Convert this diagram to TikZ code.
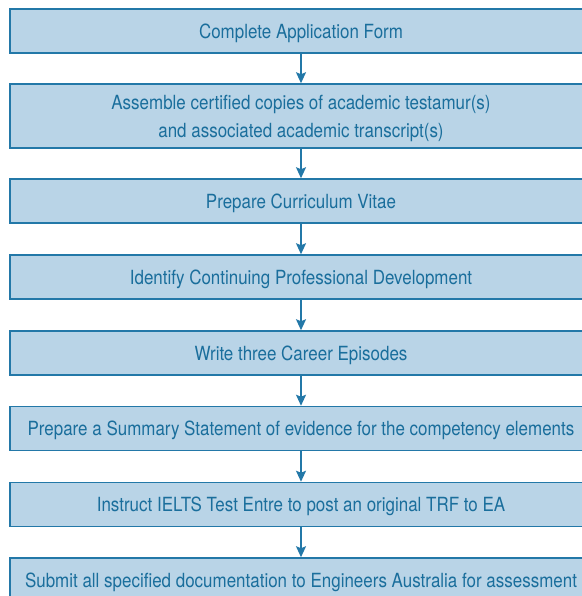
\documentclass[tikz,border=0pt]{standalone}
\usepackage{fontspec}
\setmainfont[FakeStretch=0.87]{TeX Gyre Heros}
\usepackage{xcolor}
\usetikzlibrary{arrows.meta}

\definecolor{boxfill}{HTML}{B9D4E7}
\definecolor{boxline}{HTML}{2378A8}
\definecolor{boxtext}{HTML}{1A6E9C}

\begin{document}
\begin{tikzpicture}[
    x=1pt, y=-1pt,
    every node/.style={inner sep=0pt},
    stage/.style={draw=boxline, line width=1.5pt, fill=boxfill,
        text=boxtext, minimum width=582pt, minimum height=44pt,
        text depth=0pt, align=center,
        font=\fontsize{19.5}{28}\selectfont},
    flow/.style={draw=boxline, line width=1.6pt,
        -{Stealth[length=11pt,width=10pt,inset=2pt]}}
]
    \useasboundingbox (0,0) rectangle (581,596);

    % 1. Define the nodes
    \node[stage] (form) at (301,31) {Complete Application Form};
    \node[stage, minimum height=64pt] (copies) at (301,116)
        {Assemble certified copies of academic testamur(s)\\
         and associated academic transcript(s)};
    \node[stage] (cv) at (301,201) {Prepare Curriculum Vitae};
    \node[stage] (cpd) at (301,277) {Identify Continuing Professional Development};
    \node[stage] (episodes) at (301,353) {Write three Career Episodes};
    \node[stage] (summary) at (301,428.5)
        {Prepare a Summary Statement of evidence for the competency elements};
    \node[stage] (ielts) at (301,504.5)
        {Instruct IELTS Test Entre to post an original TRF to EA};
    \node[stage] (submit) at (301,580)
        {Submit all specified documentation to Engineers Australia for assessment};

    % 2. Draw the arrows
    \draw[flow] (form) -- (copies);
    \draw[flow] (copies) -- (cv);
    \draw[flow] (cv) -- (cpd);
    \draw[flow] (cpd) -- (episodes);
    \draw[flow] (episodes) -- (summary);
    \draw[flow] (summary) -- (ielts);
    \draw[flow] (ielts) -- (submit);

\end{tikzpicture}
\end{document}
